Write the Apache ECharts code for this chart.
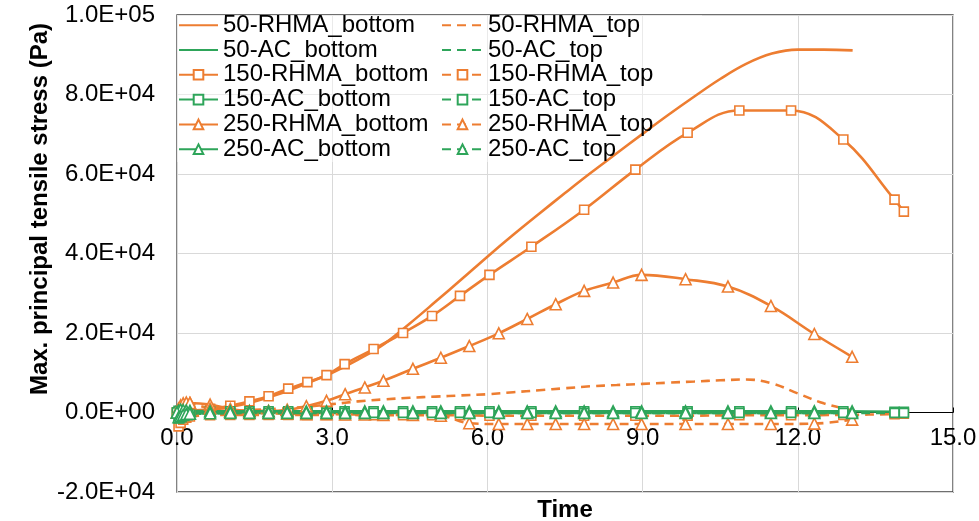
<!DOCTYPE html>
<html>
<head>
<meta charset="utf-8">
<script src="https://cdn.jsdelivr.net/npm/echarts@6/dist/echarts.min.js"></script>
<style>
html,body{margin:0;padding:0;background:#fff;}
#chart{width:979px;height:521px;}
</style>
</head>
<body>
<div id="chart"></div>
<script>
// ---- Data ----
const t50 = [0,0.5,1,1.5,2,2.5,3,3.5,4,4.5,5,5.5,6,6.5,7,7.5,8,8.5,9,9.5,10,10.5,11,11.5,12,12.5,13.06];
const rhma50Bottom = [0,400,1300,2800,4800,7300,10000,13300,17200,22400,27900,33500,39200,44700,50000,55200,60300,65200,70100,74900,79500,83900,87700,90300,91300,91300,91100];
const rhma50Top = [0,200,400,650,1000,1450,2100,2800,3300,3700,4000,4300,4600,5100,5600,6100,6600,6900,7200,7500,7800,8100,8300,7300,4800,2300,500];
const ac50Bottom = [0,150,200,200,250,250,250,250,300,300,300,300,300,300,300,300,300,300,300,300,300,300,300,300,300,300,300];
const ac50Top = [0,-300,-200,-150,-100,-100,-100,-100,-100,-100,-100,-100,-100,-100,-100,-100,-100,-100,-100,-100,-100,-100,-100,-100,-100,-100,-100];

const t150 = [0,0.03,0.07,0.12,0.18,0.25,0.64,1.03,1.40,1.77,2.15,2.52,2.89,3.24,3.80,4.37,4.93,5.47,6.04,6.85,7.87,8.86,9.87,10.87,11.87,12.88,13.87,14.05];
const rhma150Bottom = [0,100,200,300,350,400,900,1700,2800,4100,6000,7640,9400,12180,15960,20000,24290,29330,34630,41690,51020,61100,70370,75990,75990,68680,53560,50530];
const rhma150Top = [0,-3500,-2600,-1800,-1300,-1000,-700,-600,-600,-600,-600,-600,-600,-600,-700,-700,-700,-700,-800,-800,-800,-800,-800,-700,-700,-600,-400,-300];
const ac150Bottom = [0,400,500,450,400,350,300,300,300,300,300,300,300,300,300,300,300,300,300,300,300,300,300,300,300,300,200,200];
const ac150Top = [0,-1500,-1000,-700,-500,-400,-200,-150,-100,-100,-100,-100,-100,-100,-100,-100,-100,-100,-100,-100,-100,-100,-100,-100,-100,-100,-100,-100];

const t250 = [0,0.03,0.07,0.12,0.18,0.25,0.64,1.03,1.40,1.77,2.13,2.50,2.89,3.25,3.63,3.99,4.56,5.10,5.65,6.22,6.77,7.32,7.87,8.43,8.98,9.83,10.65,11.48,12.32,13.05];
const rhma250Bottom = [0,600,1200,1800,2200,2400,2000,900,400,400,700,1590,2930,4610,6300,7970,11000,13770,16720,19920,23530,27240,30590,32690,34630,33540,31680,26810,19750,14020];
const rhma250Top = [0,1000,1800,2300,2500,2400,1000,200,-100,-200,-300,-400,-400,-500,-500,-600,-600,-800,-2700,-2900,-2900,-2900,-2900,-2900,-2900,-2900,-2900,-2900,-2800,-1800];
const ac250Bottom = [0,500,700,600,500,400,300,300,300,300,300,300,300,300,300,300,300,300,300,300,300,300,300,300,300,300,300,300,300,300];
const ac250Top = [0,-1200,-900,-600,-400,-300,-200,-100,-100,-100,-100,-100,-100,-100,-100,-100,-100,-100,-100,-100,-100,-100,-100,-100,-100,-100,-100,-100,-100,-100];

const xTicks = {min: 0, max: 15, interval: 3};
const yTicks = {min: -20000, max: 100000, interval: 20000};
const bottomNames = ['50-RHMA_bottom','50-AC_bottom','150-RHMA_bottom','150-AC_bottom','250-RHMA_bottom','250-AC_bottom'];
const topNames = ['50-RHMA_top','50-AC_top','150-RHMA_top','150-AC_top','250-RHMA_top','250-AC_top'];
const noMarkerNames = ['50-RHMA_bottom','50-AC_bottom','50-RHMA_top','50-AC_top'];

// ---- Styling ----
const ORANGE = '#ED7D31';
const GREEN = '#2EA55A';
const FONT = '"Liberation Sans", Arial, sans-serif';

function pairs(xs, ys){ return xs.map((x,i)=>[x, ys[i]]); }
function mk(name, xs, ys, color, dashed, symbol){
  const s = {
    name: name, type: 'line', data: pairs(xs, ys), smooth: 0.4,
    lineStyle: {color: color, width: 2.6, type: dashed ? [9,6] : 'solid'},
    itemStyle: {color: '#fff', borderColor: color, borderWidth: 1.6},
    color: color,
    animation: false
  };
  if (symbol) {
    s.symbol = symbol;
    s.symbolSize = symbol === 'triangle' ? 11 : 9;
    s.showSymbol = true;
  } else {
    s.symbol = 'none';
    s.showSymbol = false;
  }
  return s;
}
function sci(v){
  if (v === 0) return '0.0E+00';
  const sgn = v < 0 ? '-' : '';
  const a = Math.abs(v);
  const e = Math.floor(Math.log10(a) + 1e-9);
  const m = (a / Math.pow(10, e)).toFixed(1);
  return sgn + m + 'E' + (e < 0 ? '-' : '+') + String(Math.abs(e)).padStart(2, '0');
}
function legendData(names){
  return names.map(n => noMarkerNames.indexOf(n) >= 0 ? {name: n, itemStyle: {opacity: 0}} : {name: n});
}

const series = [
  mk('50-RHMA_bottom', t50, rhma50Bottom, ORANGE, false, null),
  mk('50-RHMA_top', t50, rhma50Top, ORANGE, true, null),
  mk('50-AC_bottom', t50, ac50Bottom, GREEN, false, null),
  mk('50-AC_top', t50, ac50Top, GREEN, true, null),
  mk('150-RHMA_bottom', t150, rhma150Bottom, ORANGE, false, 'rect'),
  mk('150-RHMA_top', t150, rhma150Top, ORANGE, true, 'rect'),
  mk('150-AC_bottom', t150, ac150Bottom, GREEN, false, 'rect'),
  mk('150-AC_top', t150, ac150Top, GREEN, true, 'rect'),
  mk('250-RHMA_bottom', t250, rhma250Bottom, ORANGE, false, 'triangle'),
  mk('250-RHMA_top', t250, rhma250Top, ORANGE, true, 'triangle'),
  mk('250-AC_bottom', t250, ac250Bottom, GREEN, false, 'triangle'),
  mk('250-AC_top', t250, ac250Top, GREEN, true, 'triangle')
];

const legendText = {fontSize: 24, lineHeight: 24.4, fontFamily: FONT, color: '#000'};
const chart = echarts.init(document.getElementById('chart'), null, {renderer: 'canvas'});
chart.setOption({
  animation: false,
  backgroundColor: '#fff',
  grid: {left: 177, right: 26, top: 15, bottom: 29, show: true, borderColor: '#404040', borderWidth: 1.3,
         backgroundColor: 'transparent', containLabel: false, outerBoundsMode: 'none'},
  xAxis: {
    type: 'value', min: xTicks.min, max: xTicks.max, interval: xTicks.interval,
    offset: -79.5,
    axisLine: {show: true, onZero: false, lineStyle: {color: '#000', width: 1}},
    axisTick: {show: true, inside: true, length: 5, lineStyle: {color: '#000'}},
    axisLabel: {fontSize: 24, fontFamily: FONT, color: '#000', margin: 14, formatter: v => v.toFixed(1)},
    splitLine: {show: true, lineStyle: {color: '#d9d9d9', width: 1}}
  },
  yAxis: {
    type: 'value', min: yTicks.min, max: yTicks.max, interval: yTicks.interval,
    axisLine: {show: false},
    axisTick: {show: false},
    axisLabel: {fontSize: 24, fontFamily: FONT, color: '#000', margin: 22, formatter: sci},
    splitLine: {show: true, lineStyle: {color: '#d9d9d9', width: 1}}
  },
  legend: [
    {orient: 'vertical', left: 178, top: 13, padding: 0, itemWidth: 39, itemHeight: 12, itemGap: 0.4,
     data: legendData(bottomNames), textStyle: legendText, selectedMode: false, z: 5},
    {orient: 'vertical', left: 441, top: 13, padding: 0, itemWidth: 41, itemHeight: 12, itemGap: 0.4,
     data: legendData(topNames), textStyle: legendText, selectedMode: false, z: 5}
  ],
  graphic: [
    {type: 'rect', z: 3, silent: true, shape: {x: 177, y: 15, width: 525, height: 147},
     style: {fill: 'rgba(255,255,255,0.45)', stroke: null}},
    {type: 'text', z: 5, x: 40.5, y: 209, rotation: Math.PI / 2,
     style: {text: 'Max. principal tensile stress (Pa)', fontSize: 24, fontWeight: 'bold', fontFamily: FONT, fill: '#000', align: 'center', verticalAlign: 'middle'}},
    {type: 'text', z: 5, x: 565, y: 510,
     style: {text: 'Time', fontSize: 24, fontWeight: 'bold', fontFamily: FONT, fill: '#000', align: 'center', verticalAlign: 'middle'}}
  ],
  series: series
});
</script>
</body>
</html>
